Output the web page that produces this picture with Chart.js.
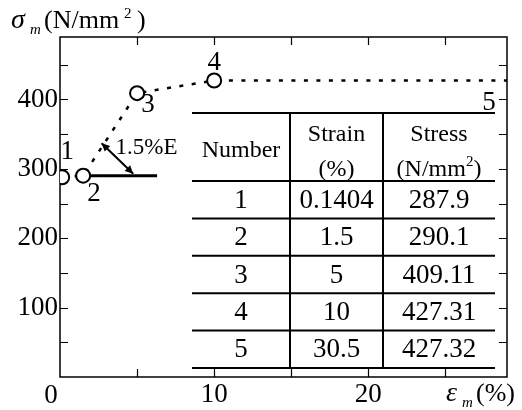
<!DOCTYPE html>
<html>
<head>
<meta charset="utf-8">
<script src="https://cdn.jsdelivr.net/npm/chart.js@4"></script>
<style>
  html, body { margin: 0; padding: 0; background: #fff; }
  #wrap { width: 522px; height: 410px; }
</style>
</head>
<body>
<div id="wrap"><canvas id="c" width="522" height="410"></canvas></div>
<script>
// Test points of the stress–strain curve
const pointNumbers = ['1', '2', '3', '4', '5'];
const strain = [0.1404, 1.5, 5, 10, 30.5];          // %
const stress = [287.9, 290.1, 409.11, 427.31, 427.32]; // N/mm2

// Horizontal plateau drawn from point 2
const plateauStrain = [1.5, 6.3];

// Axis ranges and labelled ticks
const xRange = [0, 29];
const yRange = [0, 490];
const xTickLabels = [10, 20];
const yTickLabels = [100, 200, 300, 400];
const xMinorStep = 5;
const yMinorStep = 50;

// Table header
const tableHeader = [['Number'], ['Strain', '(%)'], ['Stress', '(N/mm', '2', ')']];

const SERIF = '"Liberation Serif", "Times New Roman", serif';

const curveData = strain.map((x, i) => ({ x, y: stress[i] }));
const plateauData = plateauStrain.map(x => ({ x, y: stress[1] }));

// Pixel offsets of the point-number labels from their marks
const labelOffsets = [[5, -25], [11, 18], [11, 12], [0, -18]];

const decorations = {
  id: 'decorations',
  beforeDatasetsDraw(chart) {
    const { ctx, chartArea: a, scales: { x, y } } = chart;
    ctx.save();
    ctx.strokeStyle = '#000';
    ctx.lineWidth = 1.5;
    ctx.strokeRect(a.left, a.top, a.right - a.left, a.bottom - a.top);
    ctx.lineWidth = 1.2;
    const tl = 8;
    ctx.beginPath();
    for (let v = xRange[0] + xMinorStep; v < xRange[1]; v += xMinorStep) {
      const px = Math.round(x.getPixelForValue(v)) + 0.5;
      ctx.moveTo(px, a.bottom); ctx.lineTo(px, a.bottom - tl);
      ctx.moveTo(px, a.top); ctx.lineTo(px, a.top + tl);
    }
    for (let v = yRange[0] + yMinorStep; v < yRange[1]; v += yMinorStep) {
      const py = Math.round(y.getPixelForValue(v)) + 0.5;
      ctx.moveTo(a.left, py); ctx.lineTo(a.left + tl, py);
      ctx.moveTo(a.right, py); ctx.lineTo(a.right - tl, py);
    }
    ctx.stroke();
    ctx.restore();
  },
  afterDatasetsDraw(chart) {
    const { ctx, chartArea: a, scales: { x, y } } = chart;
    ctx.save();
    ctx.fillStyle = '#000';
    ctx.strokeStyle = '#000';

    // point numbers
    ctx.font = '27px ' + SERIF;
    ctx.textAlign = 'center';
    ctx.textBaseline = 'middle';
    for (let i = 0; i < 4; i++) {
      const px = x.getPixelForValue(strain[i]) + labelOffsets[i][0];
      const py = y.getPixelForValue(stress[i]) + labelOffsets[i][1];
      ctx.fillText(pointNumbers[i], px, py);
    }
    // point 5 lies beyond the axis; its number sits at the right edge
    ctx.fillText(pointNumbers[4], a.right - 18, y.getPixelForValue(stress[4]) + 22);

    // 1.5%E double arrow
    const ax1 = x.getPixelForValue(2.7), ay1 = y.getPixelForValue(337);
    const ax2 = x.getPixelForValue(4.75), ay2 = y.getPixelForValue(stress[1]) - 2;
    ctx.lineWidth = 2;
    ctx.beginPath(); ctx.moveTo(ax1, ay1); ctx.lineTo(ax2, ay2); ctx.stroke();
    const head = (tx, ty, fx, fy) => {
      const ang = Math.atan2(ty - fy, tx - fx);
      const L = 9, W = 0.45;
      ctx.beginPath();
      ctx.moveTo(tx, ty);
      ctx.lineTo(tx - L * Math.cos(ang - W), ty - L * Math.sin(ang - W));
      ctx.lineTo(tx - L * Math.cos(ang + W), ty - L * Math.sin(ang + W));
      ctx.closePath(); ctx.fill();
    };
    head(ax1, ay1, ax2, ay2);
    head(ax2, ay2, ax1, ay1);
    ctx.font = '23px ' + SERIF;
    ctx.textAlign = 'left';
    ctx.fillText('1.5%E', x.getPixelForValue(3.6), y.getPixelForValue(330));

    // data table
    const L = a.left + 132, R = a.left + 435;
    const c1 = a.left + 230, c2 = a.left + 323;
    const top = a.top + 76, headBot = a.top + 144, rowH = 37.4;
    const rows = strain.length;
    const bot = headBot + rows * rowH;
    ctx.fillStyle = '#fff';
    ctx.fillRect(L, top, R - L, bot - top);
    ctx.fillStyle = '#000';
    ctx.lineWidth = 2;
    ctx.beginPath();
    ctx.moveTo(L, top); ctx.lineTo(R, top);
    for (let r = 0; r <= rows; r++) {
      const yy = headBot + r * rowH;
      ctx.moveTo(L, yy); ctx.lineTo(R, yy);
    }
    ctx.moveTo(c1, top); ctx.lineTo(c1, bot);
    ctx.moveTo(c2, top); ctx.lineTo(c2, bot);
    ctx.stroke();

    const cx = [(L + c1) / 2, (c1 + c2) / 2, (c2 + R) / 2];
    ctx.textAlign = 'center';
    ctx.textBaseline = 'alphabetic';
    ctx.font = '24px ' + SERIF;
    ctx.fillText(tableHeader[0][0], cx[0], top + 44);
    ctx.fillText(tableHeader[1][0], cx[1], top + 28);
    ctx.fillText(tableHeader[1][1], cx[1], top + 63);
    ctx.fillText(tableHeader[2][0], cx[2], top + 28);
    // (N/mm²) with superscript
    const w1 = ctx.measureText(tableHeader[2][1]).width;
    ctx.font = '15px ' + SERIF;
    const w2 = ctx.measureText(tableHeader[2][2]).width;
    ctx.font = '24px ' + SERIF;
    const w3 = ctx.measureText(tableHeader[2][3]).width;
    let sx = cx[2] - (w1 + w2 + w3) / 2;
    ctx.textAlign = 'left';
    ctx.fillText(tableHeader[2][1], sx, top + 63);
    ctx.font = '15px ' + SERIF;
    ctx.fillText(tableHeader[2][2], sx + w1, top + 53);
    ctx.font = '24px ' + SERIF;
    ctx.fillText(tableHeader[2][3], sx + w1 + w2, top + 63);

    ctx.textAlign = 'center';
    ctx.textBaseline = 'middle';
    ctx.font = '27px ' + SERIF;
    for (let r = 0; r < rows; r++) {
      const yy = headBot + (r + 0.5) * rowH + 1;
      ctx.fillText(pointNumbers[r], cx[0], yy);
      ctx.fillText(String(strain[r]), cx[1], yy);
      ctx.fillText(String(stress[r]), cx[2], yy);
    }

    // axis titles
    ctx.textBaseline = 'alphabetic';
    ctx.textAlign = 'left';
    ctx.font = 'italic 28px ' + SERIF;
    ctx.fillText('σ', 11, 28);
    ctx.font = 'italic 15px ' + SERIF;
    ctx.fillText('m', 30, 34);
    ctx.font = '26px ' + SERIF;
    ctx.fillText('(N/mm', 44, 28);
    ctx.font = '15px ' + SERIF;
    ctx.fillText('2', 124, 18);
    ctx.font = '26px ' + SERIF;
    ctx.fillText(')', 137, 28);

    ctx.font = 'italic 28px ' + SERIF;
    ctx.fillText('ε', 446, 401);
    ctx.font = 'italic 15px ' + SERIF;
    ctx.fillText('m', 462, 407);
    ctx.font = '26px ' + SERIF;
    ctx.fillText('(%)', 476, 401);

    // origin label
    ctx.textAlign = 'center';
    ctx.font = '27px ' + SERIF;
    ctx.fillText('0', a.left - 9, 403);
    ctx.restore();
  }
};

new Chart(document.getElementById('c'), {
  type: 'scatter',
  data: {
    datasets: [
      {
        data: curveData,
        showLine: true,
        borderColor: '#000',
        borderWidth: 2.5,
        borderDash: [4, 8.5],
        pointRadius: 7,
        pointHoverRadius: 7,
        pointBorderWidth: 2,
        pointBorderColor: '#000',
        pointBackgroundColor: '#fff'
      },
      {
        data: plateauData,
        showLine: true,
        borderColor: '#000',
        borderWidth: 3,
        pointRadius: 0
      }
    ]
  },
  plugins: [decorations],
  options: {
    responsive: false,
    animation: false,
    events: [],
    layout: { padding: { top: 37, right: 15, left: 0, bottom: 0 } },
    plugins: { legend: { display: false }, tooltip: { enabled: false } },
    scales: {
      x: {
        type: 'linear',
        min: xRange[0], max: xRange[1],
        grid: { display: false, drawTicks: false },
        border: { display: false },
        afterBuildTicks: s => { s.ticks = xTickLabels.map(v => ({ value: v })); },
        afterFit: s => { s.height = 33; },
        ticks: { color: '#000', padding: 2, font: { family: SERIF, size: 27 } }
      },
      y: {
        type: 'linear',
        min: yRange[0], max: yRange[1],
        grid: { display: false, drawTicks: false },
        border: { display: false },
        afterBuildTicks: s => { s.ticks = yTickLabels.map(v => ({ value: v })); },
        afterFit: s => { s.width = 60; },
        ticks: { color: '#000', padding: 2, font: { family: SERIF, size: 27 } }
      }
    }
  }
});
</script>
</body>
</html>
